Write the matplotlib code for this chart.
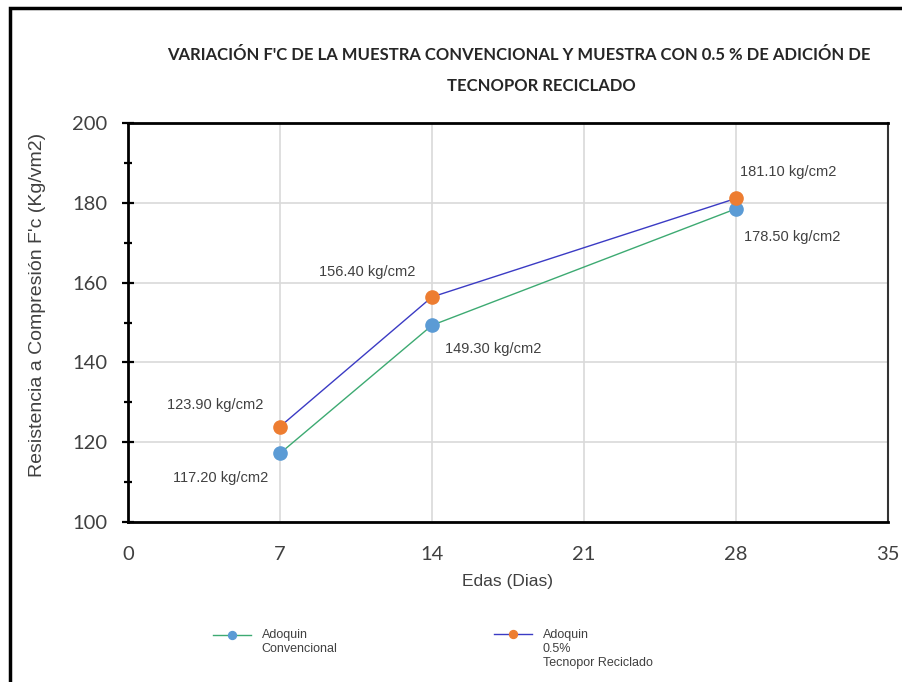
import matplotlib
matplotlib.use('Agg')
import matplotlib.pyplot as plt
from matplotlib.patches import Rectangle
from matplotlib.ticker import MultipleLocator
from matplotlib.legend_handler import HandlerLine2D

# datos
dias = [7, 14, 28]
conv = [117.2, 149.3, 178.5]
tecno = [123.9, 156.4, 181.1]
lbl_conv = ['117.20 kg/cm2', '149.30 kg/cm2', '178.50 kg/cm2']
lbl_tecno = ['123.90 kg/cm2', '156.40 kg/cm2', '181.10 kg/cm2']
leg_labels = ['Adoquin\nConvencional', 'Adoquin\n0.5%\nTecnopor Reciclado']
x_ticks = [0, 7, 14, 21, 28, 35]
y_ticks = [100, 120, 140, 160, 180, 200]

arial = ['Liberation Sans', 'DejaVu Sans']
calib = ['Lato', 'DejaVu Sans']
txt_col = '#404040'


class HandlerTop(HandlerLine2D):
    """linea de leyenda alineada con la primera linea del texto"""
    def __init__(self, shift, **kw):
        super().__init__(**kw)
        self.shift = shift

    def create_artists(self, legend, orig_handle, xdescent, ydescent, width, height, fontsize, trans):
        return super().create_artists(legend, orig_handle, xdescent, ydescent - 2 * self.shift,
                                      width, height, fontsize, trans)


fig = plt.figure(figsize=(9.02, 6.82), dpi=100)
ax = fig.add_axes([128/902, 1-522/682, 760/902, 399/682])

l1, = ax.plot(dias, conv, color='#3DAA72', lw=1.0, marker='o', ms=9.5,
              mfc='#5B9BD5', mec='#5B9BD5', zorder=3)
l2, = ax.plot(dias, tecno, color='#3B3BC4', lw=1.0, marker='o', ms=9.5,
              mfc='#ED7D31', mec='#ED7D31', zorder=4)

# etiquetas de datos (offset en puntos)
off_conv = [(-42.5, -17.7), (43.9, -17.3), (40.3, -20)]
off_tecno = [(-46.8, 15.5), (-46.8, 18), (37.4, 19.3)]
for x, y, s, o in zip(dias, conv, lbl_conv, off_conv):
    ax.annotate(s, (x, y), xytext=o, textcoords='offset points', ha='center', va='center',
                fontsize=10.5, family=arial, color=txt_col)
for x, y, s, o in zip(dias, tecno, lbl_tecno, off_tecno):
    ax.annotate(s, (x, y), xytext=o, textcoords='offset points', ha='center', va='center',
                fontsize=10.5, family=arial, color=txt_col)

ax.set_xlim(0, 35)
ax.set_ylim(100, 200)
ax.set_xticks(x_ticks)
ax.set_yticks(y_ticks)
ax.yaxis.set_minor_locator(MultipleLocator(10))
ax.grid(True, color='#D9D9D9', lw=1.2)
ax.set_axisbelow(True)
ax.tick_params(axis='x', length=0, pad=17, labelsize=14.5, labelcolor=txt_col)
ax.tick_params(axis='y', which='major', direction='inout', length=8, width=1.6,
               pad=11, labelsize=14.5, labelcolor=txt_col)
ax.tick_params(axis='y', which='minor', direction='inout', length=6, width=1.6)
for t in ax.get_xticklabels() + ax.get_yticklabels():
    t.set_family(calib)

for sp in ['left', 'bottom', 'top']:
    ax.spines[sp].set_linewidth(2.0)
    ax.spines[sp].set_color('black')
ax.spines['right'].set_linewidth(1.5)
ax.spines['right'].set_color('#333333')

ax.set_xlabel('Edas (Dias)', fontsize=12.5, family=arial, color=txt_col, labelpad=8)
ax.set_ylabel("Resistencia a Compresión F'c (Kg/vm2)", fontsize=14, family=arial,
              color=txt_col)
ax.yaxis.set_label_coords(-0.108, 0.544)

fig.text(519/902, 1-55/682,
         "VARIACIÓN F'C DE LA MUESTRA CONVENCIONAL Y MUESTRA CON 0.5 % DE ADICIÓN DE",
         ha='center', va='center', fontsize=12, fontweight='bold', family=calib, color='#262626')
fig.text(541/902, 1-86/682, "TECNOPOR RECICLADO",
         ha='center', va='center', fontsize=12, fontweight='bold', family=calib, color='#262626')

leg_kw = dict(loc='upper left', frameon=False, handlelength=3, handletextpad=0.9,
              prop={'family': arial, 'size': 9}, labelcolor=txt_col, markerscale=0.6,
              borderpad=0, borderaxespad=0)
fig.legend([l1], leg_labels[:1], bbox_to_anchor=(213/902, 1-629/682),
           handler_map={l1: HandlerTop(5.4)}, **leg_kw)
fig.legend([l2], leg_labels[1:], bbox_to_anchor=(494/902, 1-629/682),
           handler_map={l2: HandlerTop(10.8)}, **leg_kw)

# marco exterior
fig.patches.append(Rectangle((10/902, -0.1), 1.2, 1.1 - 8/682, transform=fig.transFigure,
                             fill=False, ec='black', lw=2.5, clip_on=False))

plt.savefig('out.png', dpi=100)
plt.close()
